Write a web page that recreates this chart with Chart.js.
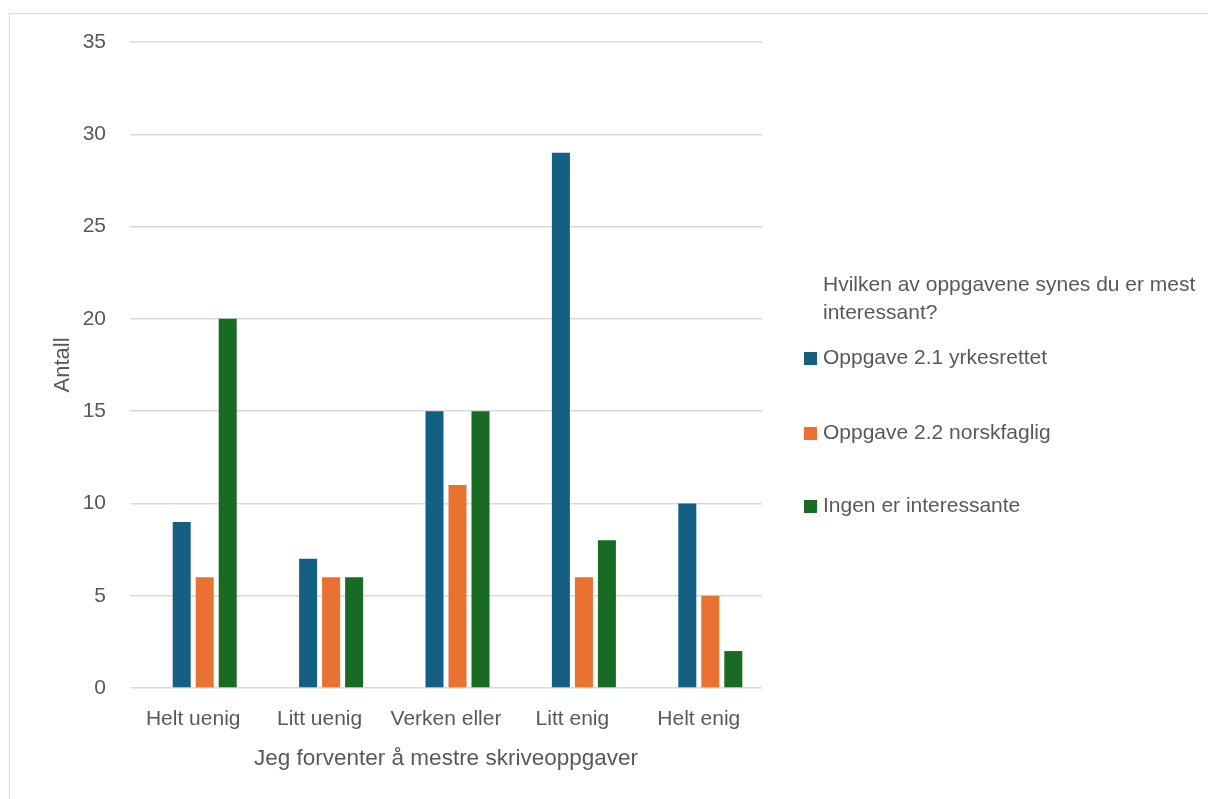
<!DOCTYPE html>
<html lang="no">
<head>
<meta charset="utf-8">
<title>Jeg forventer å mestre skriveoppgaver</title>
<script src="https://cdn.jsdelivr.net/npm/chart.js@4"></script>
<style>
  html, body { margin: 0; padding: 0; background: #ffffff; overflow: hidden; }
  #wrap { position: relative; width: 1208px; height: 799px; }
  #frame { position: absolute; left: 9px; top: 13px; width: 1400px; height: 1000px;
           border: 1px solid #d9d9d9; box-sizing: border-box; pointer-events: none; }
  canvas { position: absolute; left: 0; top: 0; }
  #legend { position: absolute; left: 804px; top: 270px; width: 400px;
            font-family: "Liberation Sans", Arial, sans-serif; font-size: 21px; color: #595959; }
  #legend .title { padding-left: 19px; line-height: 28px; }
  #legend .item { position: absolute; left: 0; height: 28px; line-height: 28px; white-space: nowrap; }
  #legend .box { display: inline-block; width: 13px; height: 13px; margin-right: 6px; vertical-align: -1px; }
</style>
</head>
<body>
<div id="wrap">
  <canvas id="chart" width="1208" height="799"></canvas>
  <div id="frame"></div>
  <div id="legend"></div>
</div>
<script>
// Svarkategorier langs x-aksen
const categories = ["Helt uenig", "Litt uenig", "Verken eller", "Litt enig", "Helt enig"];

// Antall svar per oppgave
const yrkesrettet = [9, 7, 15, 29, 10];
const norskfaglig = [6, 6, 11, 6, 5];
const ingen       = [20, 6, 15, 8, 2];
// Tom serie (overskriften i pivottabellen) som holder av en plass i hver gruppe
const tomSerie    = [null, null, null, null, null];

const seriesNames  = ["Oppgave 2.1 yrkesrettet", "Oppgave 2.2 norskfaglig", "Ingen er interessante"];
const seriesColors = ["#156082", "#E97132", "#196B24"];
const legendTitle  = ["Hvilken av oppgavene synes du er mest", "interessant?"];

const yTicks = [0, 5, 10, 15, 20, 25, 30, 35];
const xTitle = "Jeg forventer å mestre skriveoppgaver";
const yTitle = "Antall";

const textColor = "#595959";
const fontFamily = "'Liberation Sans', Arial, sans-serif";

const datasets = [
  { label: legendTitle.join(" "), data: tomSerie, backgroundColor: "rgba(0,0,0,0)" },
  { label: seriesNames[0], data: yrkesrettet, backgroundColor: seriesColors[0] },
  { label: seriesNames[1], data: norskfaglig, backgroundColor: seriesColors[1] },
  { label: seriesNames[2], data: ingen,       backgroundColor: seriesColors[2] }
].map(d => Object.assign(d, { categoryPercentage: 0.728, barPercentage: 0.783, borderWidth: 0 }));

new Chart(document.getElementById("chart"), {
  type: "bar",
  data: { labels: categories, datasets },
  options: {
    responsive: false,
    animation: false,
    devicePixelRatio: 1,
    layout: { padding: { left: 0, right: 446, top: 42, bottom: 0 } },
    plugins: { legend: { display: false }, tooltip: { enabled: false } },
    scales: {
      x: {
        grid: { display: false },
        border: { display: false },
        ticks: { color: textColor, font: { family: fontFamily, size: 21 }, padding: 11, maxRotation: 0 },
        title: { display: true, text: xTitle, color: textColor,
                 font: { family: fontFamily, size: 22.5 }, padding: { top: 0, bottom: 27 } },
        afterFit: s => { s.height = 111; }
      },
      y: {
        min: 0, max: 35,
        afterBuildTicks: s => { s.ticks = yTicks.map(v => ({ value: v })); },
        grid: { color: "#d9d9d9", lineWidth: 1.5, drawTicks: false },
        border: { display: false },
        ticks: { color: textColor, font: { family: fontFamily, size: 21 }, padding: 24 },
        title: { display: true, text: yTitle, color: textColor,
                 font: { family: fontFamily, size: 22 }, padding: { top: 50, bottom: 0 } },
        afterFit: s => { s.width = 130; }
      }
    }
  }
});

// Forklaring til høyre for diagrammet
const legend = document.getElementById("legend");
const title = document.createElement("div");
title.className = "title";
title.innerHTML = legendTitle.join("<br>");
legend.appendChild(title);
const itemTops = [73, 148, 221];
seriesNames.forEach((name, i) => {
  const item = document.createElement("div");
  item.className = "item";
  item.style.top = itemTops[i] + "px";
  const box = document.createElement("span");
  box.className = "box";
  box.style.background = seriesColors[i];
  item.appendChild(box);
  item.appendChild(document.createTextNode(name));
  legend.appendChild(item);
});
</script>
</body>
</html>
